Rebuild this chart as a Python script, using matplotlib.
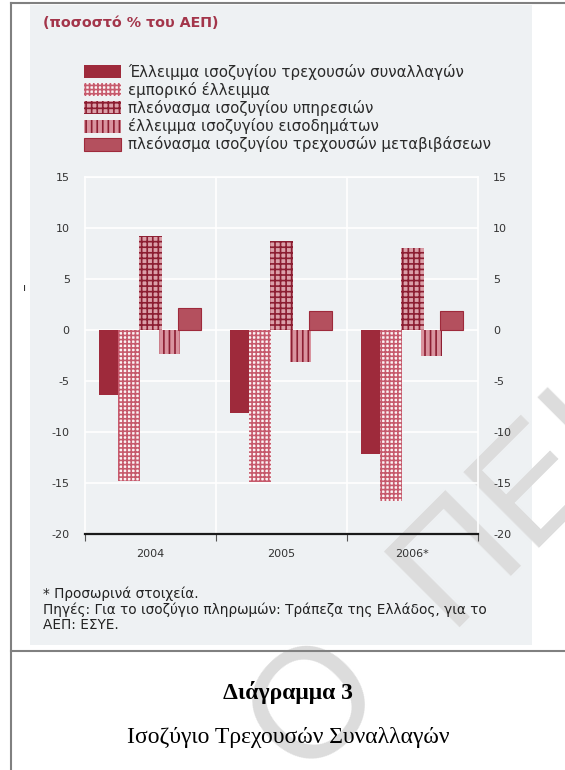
import numpy as np
import matplotlib.pyplot as plt
from matplotlib.patches import Rectangle
from matplotlib.lines import Line2D

# Data (% of GDP)
years = ['2004', '2005', '2006*']
current_account = [-6.4, -8.1, -12.2]
trade_balance = [-14.8, -14.9, -16.8]
services_balance = [9.2, 8.7, 8.0]
income_balance = [-2.4, -3.1, -2.5]
transfers_balance = [2.2, 1.9, 1.9]
series_labels = ['Έλλειμμα ισοζυγίου τρεχουσών συναλλαγών',
                 'εμπορικό έλλειμμα',
                 'πλεόνασμα ισοζυγίου υπηρεσιών',
                 'έλλειμμα ισοζυγίου εισοδημάτων',
                 'πλεόνασμα ισοζυγίου τρεχουσών μεταβιβάσεων']
y_ticks = [-20, -15, -10, -5, 0, 5, 10, 15]
y_tick_labels = ['-20', '-15', '-10', '-5', '0', '5', '10', '15']

W, H = 565, 770
def fx(x):
	return x / W
def fy(y):
	return 1 - y / H

plt.rcParams['hatch.linewidth'] = 1.2
fig = plt.figure(figsize=(W / 100, H / 100), dpi=100)

# Page frame and grey panel
fig.patches.append(Rectangle((fx(30), fy(645)), fx(532) - fx(30), fy(5) - fy(645),
	transform=fig.transFigure, facecolor='#eef1f3', edgecolor='none', zorder=-3))
for xs, ys in [((11, 565), (3, 3)), ((11, 11), (3, 770)), ((11, 565), (651, 651))]:
	fig.lines.append(Line2D([fx(v) for v in xs], [fy(v) for v in ys],
		transform=fig.transFigure, color='#808080', lw=1.5, zorder=-1))

# Watermark
em = 112 * 100 / 72.
d = np.array([0.7071, 0.7071])
n = np.array([-0.7071, 0.7071])
anchor = np.array([308., H - 700.]) - 0.39 * em * d - 0.36 * em * n
fig.text(anchor[0] / W, anchor[1] / H, 'Ο  ΠΕΙΡΑΙΩΣ', fontsize=112, family='Liberation Sans',
	color='#dcdcdc', rotation=45, rotation_mode='anchor', ha='left', va='baseline', zorder=-2)

ax = fig.add_axes([fx(85), fy(534), fx(478) - fx(85), fy(177) - fy(534)])
ax.set_facecolor('none')

ind = np.arange(len(years))
dark = '#9e2a3b'
p1 = ax.bar(ind - 0.32, current_account, 0.145, color=dark, lw=0, zorder=3)
p2 = ax.bar(ind - 0.165, trade_balance, 0.17, color='#fbf3f4', edgecolor='#c65a6c', hatch='++++', lw=0, zorder=3)
p3 = ax.bar(ind, services_balance, 0.17, color='#dba0a9', edgecolor='#8c1e32', hatch='+++', lw=0, zorder=3)
p4 = ax.bar(ind + 0.145, income_balance, 0.16, color='#d9939e', edgecolor='#8c1e32', hatch='|||', lw=0, zorder=3)
p5 = ax.bar(ind + 0.30, transfers_balance, 0.175, color='#b4505e', edgecolor=dark, lw=0.8, zorder=3)

ax.set_xlim(-0.5, 2.5)
ax.set_ylim(-20, 15)
ax.set_yticks(y_ticks)
ax.set_yticklabels(y_tick_labels)
ax.set_xticks(ind)
ax.set_xticklabels(years)
ax.set_xticks([-0.5, 0.5, 1.5, 2.5], minor=True)
ax.tick_params(axis='y', length=0, pad=11, labelsize=8, labelcolor='#333333', labelright=True)
ax.tick_params(axis='x', which='major', length=0, pad=11, labelsize=8, labelcolor='#333333')
ax.tick_params(axis='x', which='minor', length=5, width=0.8, color='#555555', direction='out')

ax.grid(axis='y', color='white', lw=1.2, zorder=0)
for b in [0.5, 1.5]:
	ax.axvline(b, color='white', lw=1.2, zorder=0)
for side in ['top', 'left', 'right']:
	ax.spines[side].set_color('white')
	ax.spines[side].set_linewidth(1.2)
ax.spines['bottom'].set_color('#1a1a1a')
ax.spines['bottom'].set_linewidth(1.6)

# Title and legend
fig.text(fx(43), fy(23), '(ποσοστό % του ΑΕΠ)', fontsize=10.3, fontweight='bold',
	color='#a3354a', va='center', ha='left')
fig.legend([p1, p2, p3, p4, p5], series_labels, loc='upper left',
	bbox_to_anchor=(fx(70), fy(50)), frameon=False, fontsize=10.8,
	handlelength=2.5, handleheight=0.95, handletextpad=0.45, labelspacing=0.15,
	labelcolor='#2a2a2a')

fig.text(fx(25), fy(288), 'ı', fontsize=8, color='#333333', ha='center', va='center')

# Footnotes
fig.text(fx(43), fy(594), '* Προσωρινά στοιχεία.', fontsize=9.8, color='#222222', va='center')
fig.text(fx(43), fy(610), 'Πηγές: Για το ισοζύγιο πληρωμών: Τράπεζα της Ελλάδος, για το',
	fontsize=9.8, color='#222222', va='center')
fig.text(fx(43), fy(625), 'ΑΕΠ: ΕΣΥΕ.', fontsize=9.8, color='#222222', va='center')

# Caption
fig.text(fx(288), fy(692), 'Διάγραμμα 3', fontsize=17, fontweight='bold',
	family='Liberation Serif', ha='center', va='center')
fig.text(fx(288), fy(737), 'Ισοζύγιο Τρεχουσών Συναλλαγών', fontsize=17,
	family='Liberation Serif', ha='center', va='center')

fig.savefig('out.png', dpi=100)
